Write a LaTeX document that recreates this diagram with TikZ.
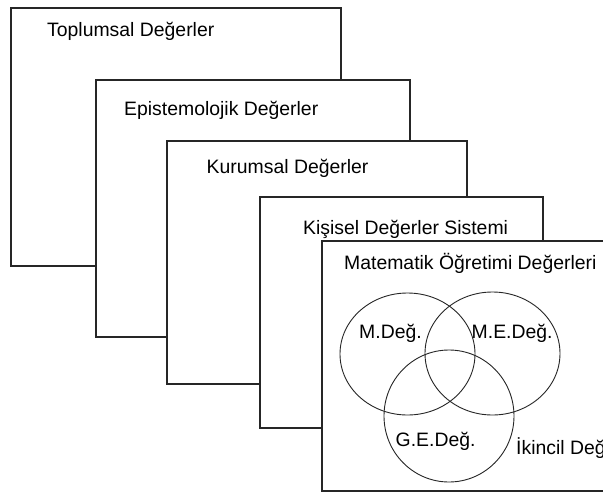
\documentclass[tikz,border=0pt]{standalone}
\usepackage{fontspec}
\setmainfont{Liberation Sans}
\begin{document}
\begin{tikzpicture}[x=1pt,y=-1pt,
  frame/.style={draw=black!85, line width=1.2pt, fill=white},
  ring/.style={draw=black!85, line width=0.9pt},
  lbl/.style={anchor=base west, inner sep=0pt, font=\fontsize{19.4}{23}\selectfont}]
\useasboundingbox (0,0) rectangle (603,493);
\clip (0,0) rectangle (603,493);
% layered frames
\draw[frame] (11,8) rectangle (341,266);
\draw[frame] (96,80) rectangle (410,337);
\draw[frame] (167,141) rectangle (467,384);
\draw[frame] (260,197) rectangle (543,428);
\draw[frame] (322,241) rectangle (640,491);
% Venn ellipses
\draw[ring] (407.5,354) ellipse [x radius=67.5, y radius=61];
\draw[ring] (492.5,353.5) ellipse [x radius=67.5, y radius=61.5];
\draw[ring] (449,416) ellipse [x radius=65, y radius=66];
% labels
\node[lbl] (t1) at (47,36.5) {Toplumsal Değerler};
\node[lbl] (t2) at (124,115) {Epistemolojik Değerler};
\node[lbl] (t3) at (206.5,173.3) {Kurumsal Değerler};
\node[lbl] (t4) at (303,234.3) {Kişisel Değerler Sistemi};
\node[lbl] (t5) at (344,269) {Matematik Öğretimi Değerleri};
\node[lbl] (v1) at (359,338.3) {M.Değ.};
\node[lbl] (v2) at (471.5,338.3) {M.E.Değ.};
\node[lbl] (v3) at (395.5,446.5) {G.E.Değ.};
\node[lbl] (v4) at (516,454) {İkincil Değ};
\end{tikzpicture}
\end{document}
